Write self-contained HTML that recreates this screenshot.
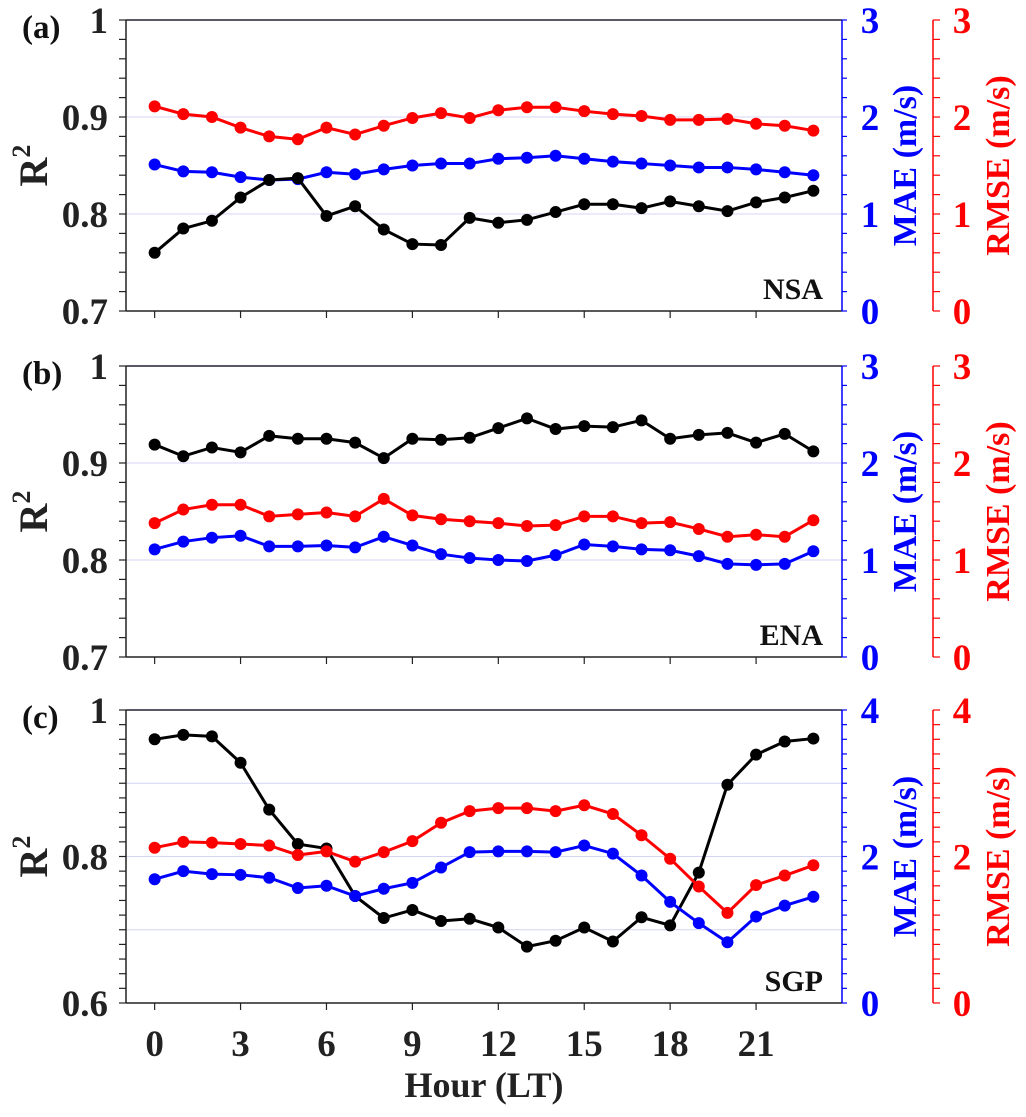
<!DOCTYPE html>
<html><head><meta charset="utf-8"><style>
html,body{margin:0;padding:0;background:#fff}
svg{display:block}
svg text{font-family:"Liberation Serif","Times New Roman",serif;font-weight:bold}
</style></head><body>
<svg id="chart" width="1026" height="1117" xmlns="http://www.w3.org/2000/svg"></svg>
<script>
const hours = [0,1,2,3,4,5,6,7,8,9,10,11,12,13,14,15,16,17,18,19,20,21,22,23];
const xTicks = [0,3,6,9,12,15,18,21];
const nsaR2 = [0.760,0.785,0.793,0.817,0.835,0.837,0.798,0.808,0.784,0.769,0.768,0.796,0.791,0.794,0.802,0.810,0.810,0.806,0.813,0.808,0.803,0.812,0.817,0.824];
const nsaMAE = [1.51,1.44,1.43,1.38,1.35,1.36,1.43,1.41,1.46,1.50,1.52,1.52,1.57,1.58,1.60,1.57,1.54,1.52,1.50,1.48,1.48,1.46,1.43,1.40];
const nsaRMSE = [2.11,2.03,2.00,1.89,1.80,1.77,1.89,1.82,1.91,1.99,2.04,1.99,2.07,2.10,2.10,2.06,2.03,2.01,1.97,1.97,1.98,1.93,1.91,1.86];
const enaR2 = [0.919,0.907,0.916,0.911,0.928,0.925,0.925,0.921,0.905,0.925,0.924,0.926,0.936,0.946,0.935,0.938,0.937,0.944,0.925,0.929,0.931,0.921,0.930,0.912];
const enaMAE = [1.11,1.19,1.23,1.25,1.14,1.14,1.15,1.13,1.24,1.15,1.06,1.02,1.00,0.99,1.05,1.16,1.14,1.11,1.10,1.04,0.96,0.95,0.96,1.09];
const enaRMSE = [1.38,1.52,1.57,1.57,1.45,1.47,1.49,1.45,1.63,1.46,1.42,1.40,1.38,1.35,1.36,1.45,1.45,1.38,1.39,1.32,1.24,1.26,1.24,1.41];
const sgpR2 = [0.960,0.966,0.964,0.928,0.864,0.817,0.811,0.746,0.716,0.727,0.712,0.715,0.703,0.677,0.685,0.703,0.684,0.717,0.706,0.778,0.898,0.939,0.957,0.961];
const sgpMAE = [1.69,1.80,1.76,1.75,1.71,1.57,1.60,1.46,1.56,1.64,1.85,2.06,2.07,2.07,2.06,2.15,2.04,1.74,1.38,1.09,0.83,1.18,1.33,1.45];
const sgpRMSE = [2.12,2.20,2.19,2.17,2.15,2.02,2.07,1.93,2.06,2.21,2.46,2.62,2.66,2.66,2.62,2.70,2.58,2.29,1.97,1.59,1.23,1.61,1.74,1.88];

const svg = document.getElementById('chart');
const NS = 'http://www.w3.org/2000/svg';
function mk(tag, attrs, parent){const e=document.createElementNS(NS,tag);for(const k in attrs)e.setAttribute(k,attrs[k]);(parent||svg).appendChild(e);return e;}
const L=126,R=842,RA=933;
function xs(h){return L+(h+1)/25*(R-L);}

const panels=[
 {id:'a',top:20,bot:311,ymin:0.7,ymax:1,rmax:3,r2:nsaR2,mae:nsaMAE,rmse:nsaRMSE,site:'NSA',lt:['0.7','0.8','0.9','1'],grid:[0.8,0.9],rt:[0,1,2,3]},
 {id:'b',top:366,bot:657,ymin:0.7,ymax:1,rmax:3,r2:enaR2,mae:enaMAE,rmse:enaRMSE,site:'ENA',lt:['0.7','0.8','0.9','1'],grid:[0.8,0.9],rt:[0,1,2,3]},
 {id:'c',top:710,bot:1003,ymin:0.6,ymax:1,rmax:4,r2:sgpR2,mae:sgpMAE,rmse:sgpRMSE,site:'SGP',lt:['0.6','0.8','1'],grid:[0.7,0.8,0.9],rt:[0,2,4]}
];
panels.forEach((p,pi)=>{
 const g=mk('g',{});
 
 
 const ys=v=>p.bot-(v-p.ymin)/(p.ymax-p.ymin)*(p.bot-p.top);
 const yr=v=>p.bot-v/p.rmax*(p.bot-p.top);
 p.grid.forEach(v=>{const l=mk('line',{x1:L,x2:R,y1:ys(v),y2:ys(v),stroke:'#d4d4f4','stroke-width':1},g);});
 mk('line',{x1:L,x2:R,y1:p.top,y2:p.top,stroke:'#223','stroke-width':1.5},g);
 mk('line',{x1:L,x2:R,y1:p.bot,y2:p.bot,stroke:'#222','stroke-width':1.5},g);
 const la=mk('line',{x1:L,x2:L,y1:p.top,y2:p.bot,stroke:'#222','stroke-width':1.5},g);
 
 const ba=mk('line',{x1:R,x2:R,y1:p.top,y2:p.bot,stroke:'#00f','stroke-width':1.5},g);
 
 const ra=mk('line',{x1:RA,x2:RA,y1:p.top,y2:p.bot,stroke:'#f00','stroke-width':1.5},g);
 
 const nt=Math.round((p.ymax-p.ymin)/0.02);
 for(let i=0;i<=nt;i++){const y=p.bot-i/nt*(p.bot-p.top);mk('line',{x1:L-7,x2:L,y1:y,y2:y,stroke:'#222','stroke-width':1.2},g);}
 const nr=p.rmax*5;
 for(let i=0;i<=nr;i++){const y=p.bot-i/nr*(p.bot-p.top);
  mk('line',{x1:R,x2:R+5,y1:y,y2:y,stroke:'#00f','stroke-width':1.2},g);
  mk('line',{x1:RA,x2:RA+7,y1:y,y2:y,stroke:'#f00','stroke-width':1.2},g);}
 xTicks.forEach(h=>mk('line',{x1:xs(h),x2:xs(h),y1:p.bot,y2:p.bot+7,stroke:'#222','stroke-width':1.2},g));
 p.lt.forEach(s=>{const t=mk('text',{x:L-18,y:ys(parseFloat(s))+13,'text-anchor':'end','font-size':37,fill:'#222'},g);t.textContent=s;});
 p.rt.forEach(v=>{
  const t=mk('text',{x:870,y:yr(v)+13,'text-anchor':'middle','font-size':37,fill:'#00f'},g);t.textContent=v;
  const t2=mk('text',{x:962,y:yr(v)+13,'text-anchor':'middle','font-size':37,fill:'#f00'},g);t2.textContent=v;
 });
 const cy=(p.top+p.bot)/2;
 const yt=mk('text',{transform:`translate(47,${cy}) rotate(-90)`,'text-anchor':'middle','font-size':40,fill:'#222'},g);
 yt.innerHTML='R<tspan dy="-17" font-size="26">2</tspan>';
 
 const mt=mk('text',{transform:`translate(916,${cy}) rotate(-90)`,'text-anchor':'middle','font-size':34,fill:'#00f'},g);mt.textContent='MAE  (m/s)';
 
 const rt=mk('text',{transform:`translate(1009,${cy}) rotate(-90)`,'text-anchor':'middle','font-size':34,fill:'#f00'},g);rt.textContent='RMSE  (m/s)';
 
 const pl=mk('text',{x:22,y:p.top+18,'font-size':33,fill:'#111'},g);pl.textContent='('+p.id+')';
 
 const sl=mk('text',{x:823,y:p.bot-12,'text-anchor':'end','font-size':30,fill:'#111'},g);sl.textContent=p.site;
 
 const series=[[p.rmse,'#f00',yr,'rmse'],[p.mae,'#00f',yr,'mae'],[p.r2,'#000',ys,'r2']];
 (pi===2?[series[2],series[0],series[1]]:series).forEach(([arr,col,sc,nm])=>{
  const pts=arr.map((v,i)=>xs(hours[i])+','+sc(v)).join(' ');
  const pl2=mk('polyline',{points:pts,fill:'none',stroke:col,'stroke-width':3},g);
  
  arr.forEach((v,i)=>{const c=mk('circle',{cx:xs(hours[i]),cy:sc(v),r:6,fill:col},g);
   });
 });
});
xTicks.forEach(h=>{const t=mk('text',{x:xs(h),y:1056,'text-anchor':'middle','font-size':37,fill:'#222'});t.textContent=h;
 });
const xt=mk('text',{x:484,y:1097,'text-anchor':'middle','font-size':36,fill:'#222'});xt.textContent='Hour (LT)';

</script>
</body></html>
